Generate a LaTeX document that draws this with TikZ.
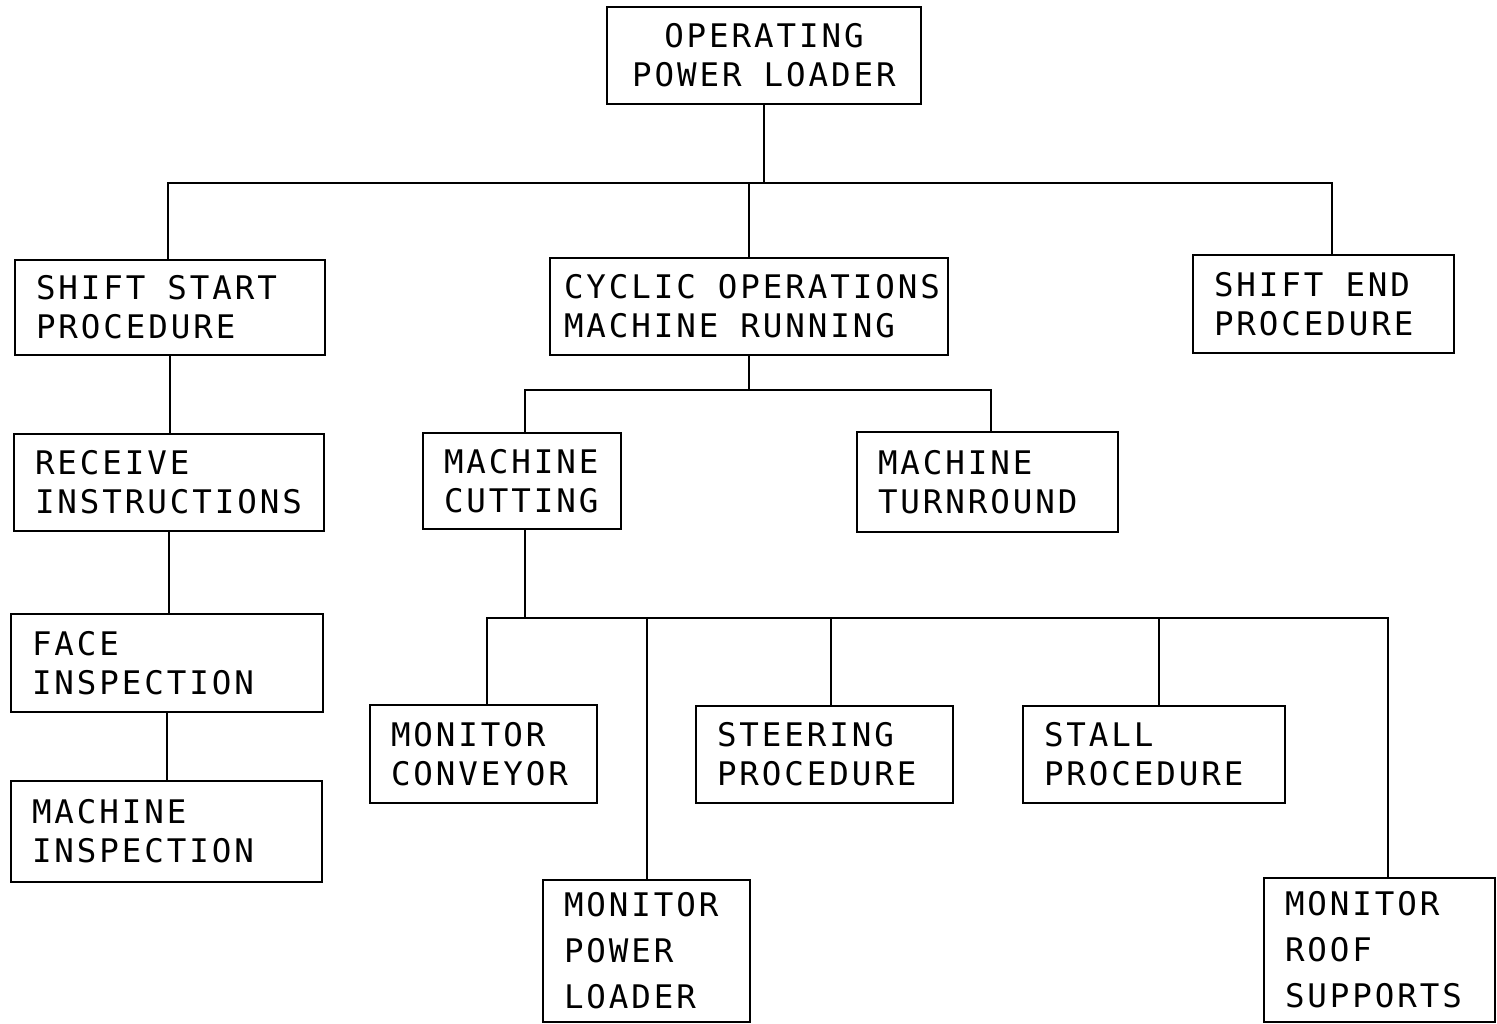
\documentclass[tikz,border=0pt]{standalone}
\usepackage{fontspec}
\newfontfamily\diafont{DejaVu Sans Mono}[LetterSpace=9]
\newcommand\wg{\hspace*{22pt}}
\hyphenpenalty=10000\relax
\exhyphenpenalty=10000\relax
\begin{document}
\begin{tikzpicture}[x=1pt,y=-1pt,
  box/.style={draw, line width=2.5pt, inner xsep=21pt, inner ysep=0pt, align=left,
    font=\diafont\fontsize{32.5}{39}\selectfont},
  boxthree/.style={box, font=\diafont\fontsize{32.5}{46}\selectfont},
  conn/.style={line width=2.5pt, line cap=rect}]
\useasboundingbox (0,0) rectangle (1497,1024);
% level 0
\node[box, align=center, text width=280pt, inner xsep=17pt, minimum height=97pt] (top) at (764,55.5) {OPERATING\\POWER\wg LOADER};
% level 1
\node[box, text width=268pt, minimum height=95pt] (ss) at (170,307.5) {SHIFT\wg START\\PROCEDURE};
\node[box, text width=370pt, inner xsep=14pt, minimum height=97pt] (cyc) at (749,306.5) {CYCLIC\wg OPERATIONS\\MACHINE\wg RUNNING};
\node[box, text width=219pt, minimum height=98pt] (se) at (1323.5,304) {SHIFT\wg END\\PROCEDURE};
% left chain
\node[box, text width=268pt, minimum height=97pt] (ri) at (169,482.5) {RECEIVE\\INSTRUCTIONS};
\node[box, text width=270pt, minimum height=98pt] (fi) at (167,663) {FACE\\INSPECTION};
\node[box, text width=269pt, minimum height=101pt] (mi) at (166.5,831.5) {MACHINE\\INSPECTION};
% level 2
\node[box, text width=156pt, minimum height=96pt] (mc) at (522,481) {MACHINE\\CUTTING};
\node[box, text width=219pt, minimum height=100pt] (mt) at (987.5,482) {MACHINE\\TURNROUND};
% level 3
\node[box, text width=185pt, minimum height=98pt] (mcv) at (483.5,754) {MONITOR\\CONVEYOR};
\node[boxthree, text width=165pt, minimum height=142pt] (mpl) at (646.5,951) {MONITOR\\POWER\\LOADER};
\node[box, text width=215pt, minimum height=97pt] (sp) at (824.5,754.5) {STEERING\\PROCEDURE};
\node[box, text width=220pt, minimum height=97pt] (stp) at (1154,754.5) {STALL\\PROCEDURE};
\node[boxthree, text width=189pt, minimum height=144pt] (mrs) at (1379.5,950) {MONITOR\\ROOF\\SUPPORTS};
% junctions
\coordinate (j1L) at (168,183);
\coordinate (j1R) at (1332,183);
\coordinate (j2L) at (525,390);
\coordinate (j2R) at (991,390);
\coordinate (j3L) at (487,618);
\coordinate (j3a) at (647,618);
\coordinate (j3b) at (831,618);
\coordinate (j3c) at (1159,618);
\coordinate (j3R) at (1388,618);
% connectors
\draw[conn] (top.south) -- (top.south |- j1L);
\draw[conn] (j1L) -- (j1R);
\draw[conn] (j1L) -- (j1L |- ss.north);
\draw[conn] (cyc.north) -- (cyc.north |- j1L);
\draw[conn] (j1R) -- (j1R |- se.north);
\draw[conn] (ss.south) -- (ss.south |- ri.north);
\draw[conn] (ri.south) -- (ri.south |- fi.north);
\draw[conn] (fi.south) -- (fi.south |- mi.north);
\draw[conn] (cyc.south) -- (cyc.south |- j2L);
\draw[conn] (j2L) -- (j2R);
\draw[conn] (j2L) -- (j2L |- mc.north);
\draw[conn] (j2R) -- (j2R |- mt.north);
\draw[conn] (mc.south -| j2L) -- (j2L |- j3L);
\draw[conn] (j3L) -- (j3R);
\draw[conn] (j3L) -- (j3L |- mcv.north);
\draw[conn] (j3a) -- (j3a |- mpl.north);
\draw[conn] (j3b) -- (j3b |- sp.north);
\draw[conn] (j3c) -- (j3c |- stp.north);
\draw[conn] (j3R) -- (j3R |- mrs.north);
\end{tikzpicture}
\end{document}
